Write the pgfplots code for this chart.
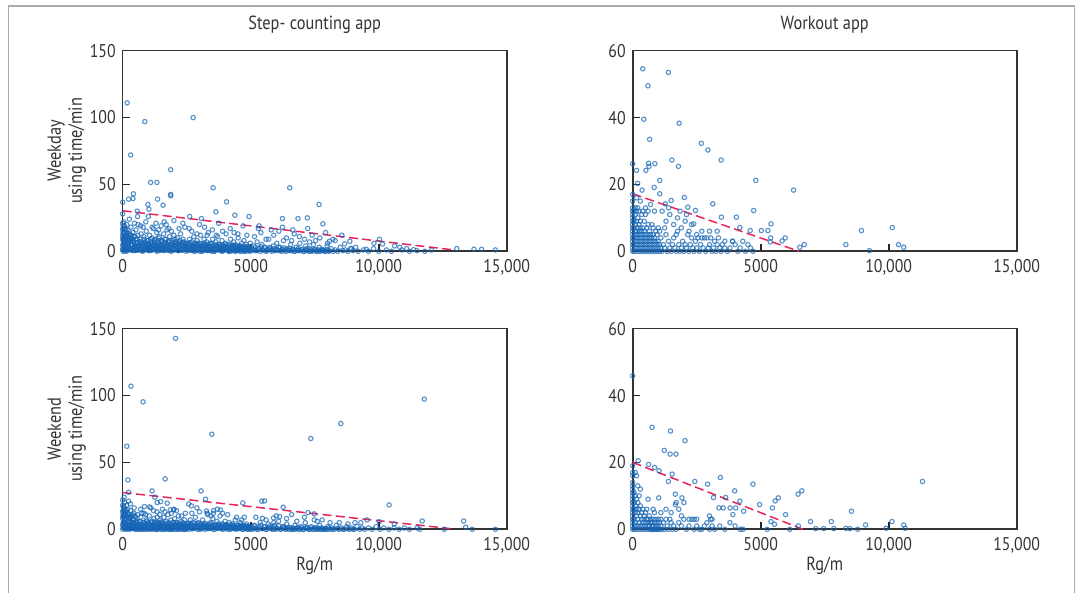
\documentclass[border=0pt]{standalone}
\usepackage{fontspec}
\setmainfont{PT Sans}[FakeStretch=0.86]
\usepackage{pgfplots}
\pgfplotsset{compat=1.18}
\definecolor{mk}{HTML}{1666B6}
\definecolor{rl}{HTML}{E8245A}
\definecolor{txt}{HTML}{333333}
\pgfplotsset{
  myax/.style={
    scale only axis, width=192pt, height=100.3pt,
    xmin=0, xmax=15000, ymin=0,
    xtick={0,5000,10000,15000}, xticklabels={0,5000,{10,000},{15,000}},
    scaled x ticks=false, scaled y ticks=false,
    tick align=inside, xtick pos=bottom, ytick pos=left,
    major tick length=3.5pt,
    tick style={black!85, line width=0.8pt},
    axis line style={black!80, line width=0.8pt},
    clip=false,
    /pgf/number format/assume math mode=true,
    tick label style={font=\fontsize{9.2}{10}\selectfont, text=txt},
    xticklabel style={yshift=-0.5pt},
    label style={font=\fontsize{9.5}{10.5}\selectfont, text=txt},
    title style={font=\fontsize{9.5}{10.5}\selectfont, text=txt, at={(axis description cs:0.5,1)}, anchor=center, yshift=7pt},
    ylabel style={align=center, at={(axis description cs:-0.146,0.5)}, anchor=center},
    xlabel style={at={(axis description cs:0.5,0)}, anchor=center, yshift=-18pt},
  },
  pts/.style={only marks, mark=o, mk, mark size=1.1pt, mark options={line width=0.55pt, draw opacity=0.72}},
  reg/.style={rl, line width=0.75pt, dash pattern=on 4.5pt off 2.2pt},
}
\begin{document}
\begin{tikzpicture}[x=0.5pt,y=0.5pt]
\useasboundingbox (0,0) rectangle (1083,593);
\draw[gray!65, line width=0.8pt] (8.3,-20) -- (8.3,587) -- (1074.3,587) -- (1074.3,-20);

% ---------------- Top left: Step-counting, weekday
\begin{axis}[myax, at={(61.35pt,170.85pt)}, anchor=south west, ymax=150, ytick={0,50,100,150},
  title={Step- counting app}, ylabel={Weekday\\using time/min}]
\addplot[pts] coordinates {
(175,111)(863,97)(2750,100)(310,72)(1874,61)(1092,51.5)(1335,51.5)(3532,47.5)(6524,47.5)
(229,39)(418,43)(404,39.5)(1361,39)(1874,42.5)(1874,41.5)(4057,37)(7670,35)(0,36.7)
(984,35)(1025,31.5)(1577,34.5)(566,30)(2615,26)(3640,29.5)(4381,27)(4934,26)(3073,24.5)
(6241,24.5)(6848,24.5)(7212,25)(7819,20.5)(5325,19)(7226,17)(6241,18)(6645,16)(7926,14)
(8560,12)(8210,9)(7535,8)(10030,9)(9814,6)(10150,5.5)(10622,4)(10824,3)(11094,2)(11364,1.2)
(12065,1)(13050,2)(13722,1.5)(14019,1.5)(14558,1)(9517,1.5)(8937,2)(9100,3)(8668,5.5)
(8870,7.5)(8075,7.5)
(10,2)(20,8)(30,14)(15,19)(40,22)(60,5)(80,11)(90,17)(100,0.5)(120,3)(130,9)(150,13)(160,20)
(180,6)(200,1)(210,16)(230,4)(240,10)(260,24)(270,7)(290,2)(300,12)(320,18)(340,5)(360,9)
(380,1)(400,14)(420,3)(440,7)(460,21)(480,11)(500,2)(520,16)(540,6)(560,9)(580,26)(600,4)
(25,0)(55,1)(75,3)(110,6)(145,2)(175,10)(205,7)(250,2)(330,1)(410,0.5)(470,4)(530,1)(590,12)
(0,5)(0,11)(0,16)(0,21)(0,28)(0,1)
(620,1)(650,5)(680,9)(700,2)(720,13)(750,0.5)(770,6)(800,3)(830,11)(850,1)(870,7)(900,4)
(920,15)(950,2)(980,8)(1000,0.5)(1020,5)(1050,12)(1080,3)(1100,7)(1130,1)(1150,10)(1180,4)
(1200,17)(1230,2)(1250,6)(1280,9)(1300,1)(1330,14)(1350,4)(1380,7)(1400,2)(1430,11)(1450,0.5)
(1480,5)(1500,19)(1530,3)(1550,8)(1580,1)(1600,13)(1630,6)(1650,2)(1680,9)(1700,4)(1730,16)
(1750,1)(1780,7)(1800,3)(1830,11)(1850,0.5)(1880,5)(1900,15)(1930,2)(1950,8)(1980,4)(2000,12)
(2030,1)(2060,6)(2100,3)(2130,10)(2160,0.5)(2200,7)(2230,2)(2260,13)(2300,5)(2330,1)(2360,9)
(2400,3)(2430,18)(2460,6)(2490,1)
(640,3)(690,7)(740,4)(790,1)(840,9)(890,2)(940,6)(990,3)(1040,1)(1090,9)(1140,5)(1190,2)
(1240,8)(1290,4)(1340,1)(1390,10)(1440,3)(1490,7)(1540,1)(1590,4)(1640,9)(1690,2)(1740,5)
(1790,1)(1840,8)(1890,3)(1940,6)(1990,1)(2040,9)(2090,4)(2140,2)(2190,5)(2240,8)(2290,1)
(2340,4)(2390,7)(2440,2)(2480,4)
(700,19)(900,22)(1150,18)(1300,21)(1700,20)(2000,23)(2200,17)(1000,26)(1800,17)(2350,21)
(600,20)(800,18)(1400,16)(1620,22)
(2520,2)(2550,6)(2580,0.5)(2610,9)(2640,3)(2680,1)(2710,7)(2740,4)(2780,11)(2810,2)(2840,5)
(2880,0.5)(2910,8)(2940,3)(2980,1)(3010,6)(3040,12)(3080,2)(3110,4)(3140,0.5)(3180,9)(3210,3)
(3240,1)(3280,7)(3310,2)(3340,14)(3380,4)(3410,0.5)(3440,6)(3480,2)(3510,9)(3540,1)(3580,4)
(3610,0.5)(3640,7)(3680,2)(3710,11)(3740,1)(3780,5)(3810,3)(3840,0.5)(3880,8)(3910,2)(3940,4)
(3980,1)(4010,6)(4040,13)(4080,2)(4110,0.5)(4140,5)(4180,3)(4210,9)(4240,1)(4280,4)(4310,0.5)
(4340,7)(4380,2)(4410,5)(4440,1)(4480,3)(4510,10)(4540,0.5)(4580,4)(4610,2)(4640,6)(4680,1)
(4710,3)(4740,8)(4780,0.5)(4810,2)(4840,5)(4880,1)(4910,3)(4940,0.5)(4980,6)
(2600,1.5)(2700,3)(2800,0)(2900,4)(3000,2)(3100,0)(3200,5)(3300,1)(3400,3)(3500,0)(3600,2)
(3700,4)(3800,1)(3900,0)(4000,3)(4100,1)(4200,0)(4300,2)(4400,0)(4500,1)(4600,0)(4700,2)
(4800,0)(4900,1)
(2700,15)(2900,13)(3200,18)(3500,16)(3750,21)(3900,15)(4200,17)(4500,13)(4700,19)(3000,20)
(3300,12)(4350,14)(2600,17)(3650,12)(4850,12)
(5050,1)(5120,4)(5180,0.5)(5250,7)(5300,2)(5380,0)(5440,5)(5500,1)(5560,3)(5630,0.5)(5700,9)
(5760,2)(5820,0)(5880,4)(5950,1)(6020,6)(6080,0.5)(6150,3)(6220,0)(6280,8)(6350,1)(6420,2)
(6500,0.5)(6560,5)(6630,1)(6700,0)(6780,3)(6850,0.5)(6920,6)(7000,1)(7080,0)(7150,4)(7230,0.5)
(7300,2)(7380,0)(7450,5)(7530,1)(7600,0)(7680,3)(7750,0.5)(7830,1)(7900,0)(7980,4)(8060,0.5)
(8140,2)(8220,0)(8300,1)(8400,0)(8500,3)(8600,0.5)(8700,1)(8800,0)(8900,2)(9000,0.5)
(5150,11)(5400,14)(5600,9)(5900,12)(6100,15)(6400,10)(6700,13)(6900,11)(7100,9)(7400,12)
(7700,10)(5300,17)(5800,16)(6600,8)(7300,7)(8000,6)(8300,8)
(9200,0)(9400,1)(9600,0)(9800,2)(10000,0)(10300,1)(10500,0)(10900,1)(11200,0)(11500,0.5)(11800,0)
};
\addplot[pts] coordinates {
(15,4)(45,7)(80,1.5)(115,5.5)(150,0)(185,3)(220,6)(255,2)(290,8)(325,1)(360,4.5)(395,7.5)(430,2.5)
(465,5)(500,0.5)(535,3.5)(570,6.5)(605,1)(640,4)(675,7)(710,2)(745,5.5)(780,0)(815,3)(850,6)
(885,1.5)(920,4.5)(955,8)(990,2.5)(1025,5)(1060,0.5)(1095,3.5)(1130,6.5)(1165,1)(1200,4)(1235,7)
(1270,2)(1305,5)(1340,0)(1375,3)(1410,6)(1445,1.5)(1480,4.5)(1515,7.5)(1550,2.5)(1585,5.5)
(1620,0.5)(1655,3.5)(1690,6)(1725,1)(1760,4)(1795,7)(1830,2)(1865,5)(1900,0)(1935,3)(1970,6.5)
(2005,1.5)(2040,4.5)(2075,7)(2110,2.5)(2145,5)(2180,0.5)(2215,3.5)(2250,6)(2285,1)(2320,4)
(2355,6.5)(2390,2)(2425,5)(2460,0)(2495,3)(2530,5.5)(2565,1.5)(2600,4.5)(2635,6.5)(2670,2.5)
(2705,5)(2740,0.5)(2775,3.5)(2810,6)(2845,1)(2880,4)(2915,6)(2950,2)(2985,4.5)(3020,0)(3055,3)
(3090,5.5)(3125,1.5)(3160,4)(3195,6)(3230,2.5)(3265,4.5)(3300,0.5)(3335,3)(3370,5.5)(3405,1)
(3440,3.5)(3475,5.5)(3510,2)(3545,4)(3580,0)(3615,2.5)(3650,5)(3685,1.5)(3720,3.5)(3755,5)
(3790,2)(3825,4)(3860,0.5)(3895,2.5)(3930,4.5)(3965,1)(4000,3)(4035,5)(4070,2)(4105,3.5)(4140,0)
(4175,2.5)(4210,4.5)(4245,1)(4280,3)(4315,4.5)(4350,1.5)(4385,3.5)(4420,0.5)(4455,2)(4490,4)
(4525,1)(4560,2.5)(4595,4)(4630,1.5)(4665,3)(4700,0)(4735,2)(4770,3.5)(4805,1)(4840,2.5)
(4875,3.5)(4910,1)(4945,2)(4980,0)
(5040,2.5)(5110,1)(5180,3)(5250,0.5)(5320,2)(5390,3.5)(5460,1)(5530,2.5)(5600,0)(5670,1.5)
(5740,3)(5810,1)(5880,2)(5950,0.5)(6020,1.5)(6090,3)(6160,0.5)(6230,1.5)(6300,2.5)(6370,0)
(6440,1)(6510,2)(6580,0.5)(6650,1.5)(6720,0)(6790,1)(6860,2)(6930,0.5)(7000,1.5)(7070,0)
(7140,1)(7210,2)(7280,0)(7350,1)(7420,0.5)(7490,1.5)(7560,0)(7630,1)(7700,0)(7770,1.5)
(7840,0.5)(7910,0)(7980,1)(8050,0)
(5,9)(10,13)(20,17)(35,10)(55,14)(70,19)(90,12)(105,9)(125,16)(140,11)(165,14)(195,12)(225,9)
(265,13)(310,10)(350,12)(390,9)(450,11)(510,9)
};
\addplot[reg] coordinates {(0,30.3) (12900,1.1)};
\end{axis}

% ---------------- Top right: Workout, weekday
\begin{axis}[myax, at={(316.35pt,170.85pt)}, anchor=south west, ymax=60, ytick={0,20,40,60},
  title={Workout app}]
\addplot[pts] coordinates {
(393,54.6)(1395,53.5)(596,49.5)(433,39.5)(1814,38.3)(663,33.5)(2681,32.3)(2938,30.3)(3453,27.3)
(1530,27.3)(0,26.2)(623,26.3)(867,26.2)(636,25.4)(1787,25.4)(149,24.2)(515,24.2)(4807,21.2)
(1056,21.2)(190,20.3)(6283,18.3)(366,18.3)(839,19.1)(1056,17.2)(2017,16.1)(1503,15.2)(3128,14.2)
(1273,14.2)(2153,13.2)(4725,12.2)(2451,12.2)(3466,10.2)(4049,10.2)(5402,8.2)(2383,8.2)(4184,7.1)
(5023,6.2)(5280,6.2)(4590,6.2)(8936,6.2)(10141,7.1)(5957,4)(5836,3.1)(6702,2)(8327,2)(10385,2)
(10588,1.2)(6526,1.2)(9248,0.2)(5389,4)(5375,2.8)
(0,0)(0,1)(0,2)(0,3)(0,4)(0,5)(0,6)(0,7)(0,8)(0,9)(0,10)(0,11)(0,12)(0,13)(0,15)(0,17)
(50,0)(50,2)(50,4)(50,7)(50,9)(50,12)
(100,1)(100,3)(100,5)(100,6)(100,8)(100,11)(100,13)
(150,0)(150,2)(150,4)(150,6)(150,9)(150,12)(150,16)
(200,1)(200,3)(200,5)(200,7)(200,10)(200,13)
(250,0)(250,2)(250,4)(250,6)(250,8)(250,12)
(300,1)(300,3)(300,5)(300,7)(300,9)(300,15)
(350,0)(350,2)(350,4)(350,6)(350,11)
(400,1)(400,3)(400,5)(400,7)(400,12)
(450,0)(450,2)(450,4)(450,6)(450,9)
(500,1)(500,3)(500,5)(500,11)(500,13)
(550,0)(550,2)(550,4)(550,7)
(600,1)(600,3)(600,5)(600,8)(600,12)
(650,0)(650,2)(650,4)(650,6)
(700,1)(700,3)(700,5)(700,14)
(750,0)(750,2)(750,4)(750,8)
(800,1)(800,3)(800,5)(800,7)
(850,0)(850,2)(850,4)(850,12)
(900,1)(900,3)(900,6)
(950,0)(950,2)(950,5)
(1000,1)(1000,3)(1000,7)
(1050,0)(1050,2)(1050,6)
(1100,1)(1100,4)
(1150,0)(1200,2)(1250,1)(1300,5)(1350,0)(1400,3)(1450,1)(1500,0)(1550,2)(1600,4)(1650,1)(1700,0)
(1750,6)(1800,2)(1850,0)(1900,1)(1950,3)(2000,0)(2050,2)(2100,1)(2150,5)(2200,0)(2250,2)(2300,4)
(2350,1)(2400,0)(2450,3)(2500,1)(2550,4)(2600,0)(2650,2)(2700,4)(2750,1)(2800,4)(2850,0)(2900,4)
(2950,1)(3000,2)(3050,4)(3100,0)(3150,1)(3200,3)(3250,0)(3300,2)(3350,4)(3400,1)(3450,0)(3500,2)
(3600,1)(3700,0)(3800,1)(3900,3)(4000,2)(4100,0)(4200,1)(4300,3)(4400,0)(4500,2)(4600,1)(4700,0)
(1300,9)(1450,11)(1600,8)(1750,10)(1900,7)(2050,9)(2200,6)(2300,8)(2500,5)(1150,12)(1400,13)
(1700,5)(2700,6)(3000,6)(3300,6)(3600,3)(3900,3)(1250,7)(1850,12)(2100,11)
};
\addplot[reg] coordinates {(0,17.2) (6500,0)};
\end{axis}

% ---------------- Bottom left: Step-counting, weekend
\begin{axis}[myax, at={(61.35pt,31.85pt)}, anchor=south west, ymax=150, ytick={0,50,100,150},
  ylabel={Weekend\\using time/min}, xlabel={Rg/m}]
\addplot[pts] coordinates {
(2063,142.7)(323,107)(795,95.3)(11781,97.3)(8520,79.1)(3478,71.1)(7347,67.9)(162,62.1)(202,36.9)
(1658,37.7)(10407,18.2)(3060,28.7)(1146,28.7)(3235,22.5)(229,27.7)(5433,21)(5541,21.2)(4691,19.7)
(6268,16.5)(7239,12.5)(13318,6.2)(13399,1.5)(11700,6.2)(14558,0)(13655,0)(12563,0)(10609,4)
(10016,5.7)(9544,7)(9072,5)(8465,5)(7791,7)(7482,11.5)(7482,7)(6133,9.5)(5891,8.5)(5460,8.2)
(1254,24)(1483,20.7)(1052,16.7)(1348,20)(1739,19.5)(1860,14.5)(1995,14.5)(3275,13.7)(3545,12)
(3815,14.5)(2575,19)(2683,17.5)
(0,3)(0,8)(0,13)(0,18)(0,22)(0,0)(20,5)(35,11)(50,16)(65,2)(80,20)(95,7)(110,0.5)(125,13)(140,4)
(160,9)(175,1)(190,15)(210,6)(225,2)(240,11)(260,0)(275,8)(290,3)(310,14)(330,5)(345,1)(360,10)
(380,3)(400,7)(420,0.5)(440,12)(460,4)(480,1)(500,9)(520,2)(540,6)(560,0)(580,11)(600,3)(30,1)
(70,4)(130,1)(200,3)(270,1)(350,4)(430,2)(510,5)(570,1)(150,18)(300,19)(450,16)(60,24)(230,21)
(620,2)(650,6)(680,0.5)(710,9)(740,3)(770,1)(800,5)(830,12)(860,2)(890,0)(920,7)(950,3)(980,1)
(1010,5)(1040,10)(1070,2)(1100,0.5)(1130,6)(1160,3)(1190,1)(1220,8)(1250,2)(1280,0)(1310,5)
(1340,13)(1370,1)(1400,4)(1430,0.5)(1460,7)(1490,2)(1520,0)(1550,5)(1580,1)(1610,9)(1640,3)
(1670,0.5)(1700,6)(1730,2)(1760,11)(1790,0)(1820,4)(1850,1)(1880,7)(1910,2)(1940,0.5)(1970,5)
(2000,1)(2030,8)(2060,3)(2090,0)(2120,5)(2150,1)(2180,10)(2210,2)(2240,0.5)(2270,6)(2300,3)
(2330,1)(2360,4)(2390,0)(2420,7)(2450,2)(2480,0.5)
(640,0)(700,3)(760,0)(820,2)(880,4)(940,0)(1000,2)(1060,0)(1120,3)(1180,0)(1240,4)(1300,1)
(1360,0)(1420,2)(1480,4)(1540,0)(1600,2)(1660,0)(1720,3)(1780,1)(1840,0)(1900,3)(1960,0)(2020,2)
(2080,0)(2140,3)(2200,0)(2260,2)(2320,0)(2380,2)(2440,0)
(700,15)(900,11)(1200,14)(1450,11)(1650,13)(1900,12)(2100,14)(2300,10)(2450,12)(850,17)(1100,16)
(1550,15)(2000,15)(750,12)(1350,9)
(2520,1)(2560,4)(2600,0)(2640,7)(2680,2)(2720,0.5)(2760,5)(2800,1)(2840,9)(2880,3)(2920,0)
(2960,5)(3000,1)(3040,3)(3080,0.5)(3120,7)(3160,2)(3200,0)(3240,4)(3280,1)(3320,11)(3360,2)
(3400,0.5)(3440,5)(3480,1)(3520,8)(3560,0)(3600,3)(3640,1)(3680,6)(3720,0.5)(3760,2)(3800,10)
(3840,1)(3880,4)(3920,0)(3960,2)(4000,6)(4040,0.5)(4080,3)(4120,1)(4160,5)(4200,0)(4240,2)
(4280,4)(4320,0.5)(4360,1)(4400,7)(4440,0)(4480,3)(4520,1)(4560,0.5)(4600,5)(4640,2)(4680,0)
(4720,3)(4760,1)(4800,0.5)(4840,4)(4880,0)(4920,2)(4960,1)
(2700,12)(3000,13)(3300,12)(3550,14)(3700,15)(3900,12)(4100,11)(4450,9)(4750,9)(2900,16)(3450,10)
(4650,7)
(5050,0)(5130,3)(5210,1)(5290,0)(5370,5)(5450,0.5)(5530,2)(5610,0)(5690,4)(5770,1)(5850,0)
(5930,3)(6010,0.5)(6090,6)(6170,0)(6250,2)(6330,0.5)(6410,4)(6490,0)(6570,1)(6650,0)(6730,3)
(6810,0.5)(6890,0)(6970,2)(7050,0)(7130,5)(7210,0.5)(7290,0)(7370,2)(7450,0)(7530,1)(7610,0)
(7690,3)(7770,0)(7850,0.5)(7930,0)(8010,2)(8090,0)(8170,1)(8250,0)(8350,3)(8450,0)(8550,1)
(8650,0)(8750,2)(8850,0)(8950,1)(9050,0)(9150,2)(9250,0)(9350,1)(9450,0)(9600,1)(9750,0)(9900,2)
(10050,0)(10200,1)(10400,0)(10600,1)(10800,0)(11000,1)(11200,0)(11500,1)(11600,0)
(5200,9)(5600,7)(6000,10)(6400,8)(6800,6)(7100,9)(7600,6)(8100,5)(8800,4)(9300,5)(5900,5)(6600,11)
};
\addplot[pts] coordinates {
(10,3)(40,5)(75,1)(110,4)(145,0)(180,2)(215,5.5)(250,1.5)(285,6)(320,0.5)(355,3.5)(390,5)(425,2)
(460,4)(495,0)(530,2.5)(565,5)(600,1)(635,3)(670,5.5)(705,1.5)(740,4)(775,0)(810,2.5)(845,5)
(880,1)(915,3.5)(950,6)(985,2)(1020,4)(1055,0.5)(1090,2.5)(1125,5)(1160,1)(1195,3)(1230,5.5)
(1265,1.5)(1300,4)(1335,0)(1370,2.5)(1405,5)(1440,1)(1475,3.5)(1510,5.5)(1545,2)(1580,4)
(1615,0.5)(1650,2.5)(1685,4.5)(1720,1)(1755,3)(1790,5)(1825,1.5)(1860,4)(1895,0)(1930,2.5)
(1965,5)(2000,1)(2035,3.5)(2070,5)(2105,2)(2140,4)(2175,0.5)(2210,2.5)(2245,4.5)(2280,1)(2315,3)
(2350,5)(2385,1.5)(2420,3.5)(2455,0)(2490,2.5)(2525,4.5)(2560,1)(2595,3)(2630,4.5)(2665,2)
(2700,3.5)(2735,0.5)(2770,2.5)(2805,4.5)(2840,1)(2875,3)(2910,4.5)(2945,1.5)(2980,3.5)(3015,0)
(3050,2)(3085,4)(3120,1)(3155,3)(3190,4.5)(3225,1.5)(3260,3)(3295,0.5)(3330,2)(3365,4)(3400,1)
(3435,2.5)(3470,4)(3505,1.5)(3540,3)(3575,0)(3610,2)(3645,3.5)(3680,1)(3715,2.5)(3750,4)
(3785,1.5)(3820,3)(3855,0.5)(3890,2)(3925,3.5)(3960,1)(3995,2.5)(4030,3.5)(4065,1.5)(4100,2.5)
(4135,0)(4170,2)(4205,3.5)(4240,1)(4275,2)(4310,3)(4345,1)(4380,2.5)(4415,0.5)(4450,1.5)(4485,3)
(4520,1)(4555,2)(4590,3)(4625,1)(4660,2)(4695,0)(4730,1.5)(4765,2.5)(4800,1)(4835,2)(4870,2.5)
(4905,0.5)(4940,1.5)(4975,0)
(5040,2)(5110,0.5)(5180,2.5)(5250,0)(5320,1.5)(5390,3)(5460,0.5)(5530,2)(5600,0)(5670,1)
(5740,2.5)(5810,0.5)(5880,1.5)(5950,0)(6020,1)(6090,2.5)(6160,0)(6230,1)(6300,2)(6370,0)(6440,1)
(6510,1.5)(6580,0)(6650,1)(6720,0)(6790,1)(6860,1.5)(6930,0)(7000,1)(7070,0)(7140,1)(7210,1.5)
(7280,0)(7350,1)(7420,0)(7490,1)(7560,0)(7630,1)(7700,0)(7770,1)(7840,0)(7910,0.5)(7980,0)
(8050,1)(8200,0)(8400,0.5)(8600,0)(8800,0.5)(9000,0)
(5,10)(15,14)(25,17)(40,9)(60,12)(75,15)(100,11)(120,8)(140,14)(170,10)(200,12)(240,8)(280,10)
(330,9)(380,11)(430,8)(480,10)
};
\addplot[reg] coordinates {(0,27.5) (12800,0.5)};
\end{axis}

% ---------------- Bottom right: Workout, weekend
\begin{axis}[myax, at={(316.35pt,31.85pt)}, anchor=south west, ymax=60, ytick={0,20,40,60},
  xlabel={Rg/m}]
\addplot[pts] coordinates {
(0,45.9)(758,30.5)(1476,29.4)(2045,26.5)(1232,23.6)(1462,22.5)(1692,22.5)(217,20.5)(623,19.4)
(853,18.5)(1029,17.5)(1543,16.5)(3426,15.5)(11320,14.3)(1395,14.3)(2424,14.3)(2925,13.5)(4698,13.5)
(6607,11.5)(6459,10.5)(3981,11.5)(1665,10.5)(1016,9.4)(1923,9.4)(3155,9.5)(3629,9.5)(5687,9.4)
(5565,8.5)(4184,8.4)(4955,7.4)(1665,7.4)(3371,6.4)(3534,6.4)(3805,6.4)(4021,6.4)(5457,6.4)
(4333,5.4)(5971,4.4)(3913,4.4)(8544,5.4)(6946,2.3)(7758,2.3)(10127,2.3)(10588,1.3)(9099,1.3)
(6472,1)(8327,0.3)(7149,0.2)(7460,0.2)(7853,0.2)(8476,0.2)(8788,0)(9897,0.3)(10642,0.3)
(5402,2.3)(5538,1.5)(6133,0)(4306,0)(5253,0)
(0,0)(0,1)(0,2)(0,3)(0,4)(0,5)(0,6)(0,7)(0,8)(0,9)(0,10)(0,11)(0,12)(0,13)(0,14)(0,16)(0,17)(0,19)
(50,0)(50,3)(50,6)(50,8)(50,11)
(100,1)(100,2)(100,5)(100,7)(100,10)(100,17)
(150,0)(150,4)(150,6)(150,9)(150,16)
(200,1)(200,3)(200,5)(200,8)(200,13)
(250,0)(250,2)(250,6)(250,10)
(300,1)(300,4)(300,7)(300,12)
(350,0)(350,3)(350,5)
(400,1)(400,2)(400,6)
(450,0)(450,4)(450,3)
(500,1)(500,2)(500,5)
(550,0)(550,3)(550,6)
(600,1)(600,3)(600,2)
(650,0)(650,4)(650,1)
(700,2)(700,3)(700,0)
(750,1)(750,0)(750,2)
(800,0)(800,3)(800,1)
(850,2)(850,0)(850,5)
(900,1)(900,3)(900,0)
(950,0)(950,2)
(1000,1)(1000,3)(1000,0)
(1050,2)(1050,0)
(1100,1)(1100,3)
(1150,0)(1200,2)(1250,0)(1300,3)(1350,1)(1400,0)(1450,3)(1500,2)(1550,0)(1600,1)(1700,0)(1800,2)
(1900,1)(2000,3)(2100,0)(2200,1)(2300,3)(2400,0)(2500,1)(2600,0)(2700,0)(2800,1)(2900,2)(3000,0)
(3050,3)(3100,1)(3200,0)(3400,1)(3600,0)(3800,2)(4000,1)(4200,0)
(1300,6)(1500,5)(1800,6)(2000,8)(2200,3)(2400,3)(1700,8)(1900,4)(2500,3)(3000,4)(3100,3)(600,9)
(800,6)(1100,5)
};
\addplot[reg] coordinates {(0,20) (6650,0)};
\end{axis}
\end{tikzpicture}
\end{document}
